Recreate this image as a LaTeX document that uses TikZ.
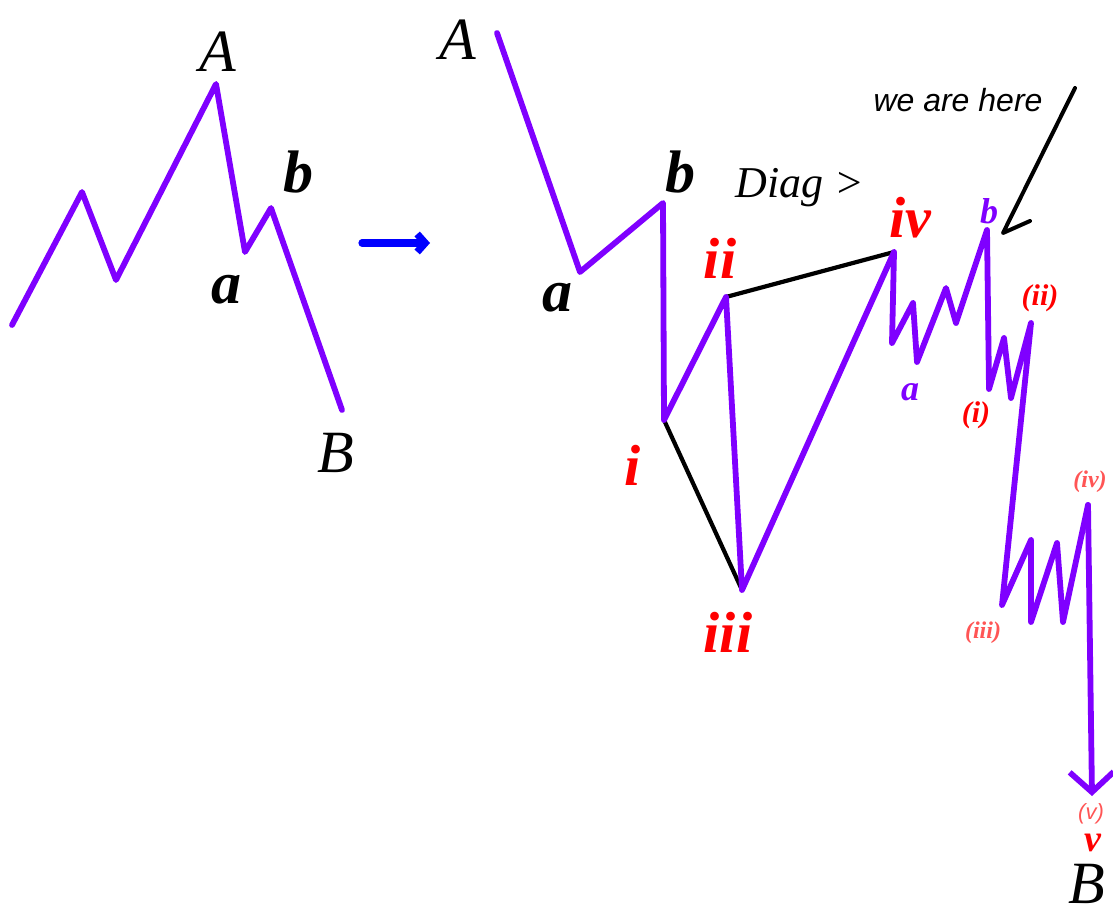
\documentclass[tikz,border=0pt]{standalone}
\usepackage{fontspec}
\setmainfont{Liberation Serif}
\setsansfont{Liberation Sans}
\usetikzlibrary{arrows.meta}
\definecolor{wavepurple}{RGB}{127,0,255}
\definecolor{wavered}{RGB}{255,0,0}
\definecolor{palered}{RGB}{255,85,85}
\definecolor{arrowblue}{RGB}{0,0,255}
\tikzset{
  wave/.style={draw=wavepurple,line width=2.9pt,line join=round,line cap=round},
  diag/.style={draw=black,line width=2.1pt,line cap=round},
  caplabel/.style={font=\fontsize{30}{32}\selectfont\itshape},
  letlabel/.style={font=\fontsize{30}{32}\selectfont\bfseries\itshape},
  romanlabel/.style={text=wavered,font=\fontsize{29}{31}\selectfont\bfseries\itshape},
  sublabel/.style={text=wavered,font=\fontsize{15}{16}\selectfont\bfseries\itshape},
  paleslabel/.style={text=palered,font=\fontsize{12}{13}\selectfont\bfseries\itshape}
}
\begin{document}
\begin{tikzpicture}[x=0.5pt,y=-0.5pt]
  \useasboundingbox (0,0) rectangle (1113,919);
  % left: A-B correction
  \coordinate (l0) at (12,325);
  \coordinate (l1) at (82,192);
  \coordinate (l2) at (116,280);
  \coordinate (lA) at (216,84);
  \coordinate (la) at (245,252);
  \coordinate (lb) at (271,208);
  \coordinate (lB) at (342,410);
  \draw[wave] (l0)--(l1)--(l2)--(lA)--(la)--(lb)--(lB);
  \node[caplabel] (labA) at (218,52) {A};
  \node[letlabel] (labb) at (298,172) {b};
  \node[letlabel] (laba) at (226,290) {a};
  \node[caplabel] (labB) at (336,453) {B};
  % blue arrow
  \coordinate (bl) at (362,243);
  \coordinate (br) at (430,243);
  \draw[arrowblue,line width=3.6pt,line cap=round,-{Straight Barb[length=4pt,width=9pt]}] (bl)--(br);
  % right: main wave
  \coordinate (rA) at (497,33);
  \coordinate (ra) at (580,272);
  \coordinate (rb) at (663,203);
  \coordinate (ri) at (664,420);
  \coordinate (rii) at (726,297);
  \coordinate (riii) at (742,590);
  \coordinate (riv) at (894,252);
  % small a-b and (i)...(v)
  \coordinate (w1) at (892,343);
  \coordinate (w2) at (913,303);
  \coordinate (w3) at (917,362);
  \coordinate (w4) at (946,288);
  \coordinate (w5) at (956,323);
  \coordinate (wb) at (987,230);
  \coordinate (wi) at (989,389);
  \coordinate (w6) at (1004,338);
  \coordinate (w7) at (1011,398);
  \coordinate (wii) at (1031,323);
  \coordinate (wiii) at (1002,605);
  \coordinate (w8) at (1031,540);
  \coordinate (w9) at (1031,622);
  \coordinate (w10) at (1057,543);
  \coordinate (w11) at (1063,622);
  \coordinate (wiv) at (1088,505);
  \coordinate (wv) at (1092,796);
  \draw[diag] (rii)--(riv);
  \draw[diag] (ri)--(riii);
  \draw[wave] (rA)--(ra)--(rb)--(ri)--(rii)--(riii)--(riv)--(w1)--(w2)--(w3)--(w4)--(w5)--(wb)
    --(wi)--(w6)--(w7)--(wii)--(wiii)--(w8)--(w9)--(w10)--(w11)--(wiv);
  \draw[wave,-{Straight Barb[length=10pt,width=22pt]}] (wiv)--(wv);
  % labels
  \node[caplabel] (labrA) at (458,40) {A};
  \node[letlabel] (labra) at (557,298) {a};
  \node[letlabel] (labrb) at (680,172) {b};
  \node[romanlabel] (labi) at (633,465) {i};
  \node[romanlabel] (labii) at (720,258) {ii};
  \node[romanlabel] (labiii) at (728,632) {iii};
  \node[romanlabel] (labiv) at (910,218) {iv};
  \node[font=\fontsize{22}{24}\selectfont\itshape] (labdiag) at (800,188) {Diag >};
  \node[text=wavepurple,font=\fontsize{18}{19}\selectfont\bfseries\itshape] (labwa) at (910,392) {a};
  \node[text=wavepurple,font=\fontsize{18}{19}\selectfont\bfseries\itshape] (labwb) at (989,211) {b};
  \node[sublabel] (labwi) at (976,415) {(i)};
  \node[sublabel] (labwii) at (1040,298) {(ii)};
  \node[paleslabel] (labwiii) at (983,633) {(iii)};
  \node[paleslabel] (labwiv) at (1090,482) {(iv)};
  \node[paleslabel,font=\fontsize{11}{12}\selectfont\sffamily\itshape,inner sep=0pt] (labwv) at (1091,814) {(v)};
  \node[text=wavered,font=\fontsize{19}{20}\selectfont\bfseries\itshape,inner sep=0pt] (labv) at (1093,843) {v};
  \node[caplabel,inner sep=0pt] (labrB) at (1087,884) {B};
  % we are here
  \node[font=\fontsize{16}{17}\selectfont\sffamily\itshape] (here) at (958,100) {we are here};
  \coordinate (hs) at (1075,88);
  \coordinate (ht) at (1003,233);
  \coordinate (hw) at (1030,221);
  \draw[black,line width=2pt,line cap=round,line join=round] (hs)--(ht)--(hw);
\end{tikzpicture}
\end{document}
